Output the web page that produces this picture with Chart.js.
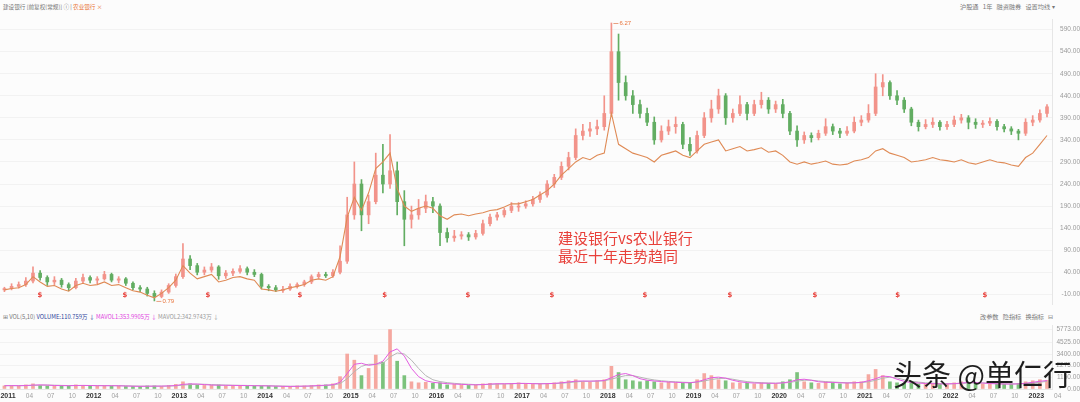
<!DOCTYPE html>
<html>
<head>
<meta charset="utf-8">
<script src="https://cdn.jsdelivr.net/npm/chart.js@4.4.1/dist/chart.umd.min.js"></script>
<style>
  body { margin:0; width:1080px; height:402px; overflow:hidden; background:#fcfcfc; position:relative; font-family:"Noto Sans CJK SC","Noto Sans",sans-serif; }
  .abs { position:absolute; white-space:nowrap; }
  #priceCanvas { position:absolute; left:0; top:14px; }
  #volCanvas { position:absolute; left:0; top:320px; }
  .small { font-size:5.6px; line-height:8px; color:#777; }
  .note { font-size:15px; line-height:18px; color:#e8403a; }
  .mark { font-size:29px; line-height:34px; color:#1d1d1d; letter-spacing:0px; }
</style>
</head>
<body>
<div class="abs small" style="left:3px;top:3px;">建设银行 [前复权(常规)] ⓘ | <span style="color:#e8743b">农业银行 ×</span></div>
<div class="abs small" style="left:960px;top:3px;font-size:6.2px;">沪股通 &nbsp;&nbsp;1年 &nbsp;&nbsp;融资融券 &nbsp;&nbsp;设置均线 ▾</div>
<canvas id="priceCanvas" width="1080" height="296"></canvas>
<div class="abs small" style="left:3px;top:313px;font-size:5.8px;">⊞ VOL(5,10) <span style="color:#2c3f9a">VOLUME:110.759万 ↓</span> <span style="color:#e040e0">MAVOL1:353.9905万 ↓</span> <span style="color:#999">MAVOL2:342.9743万 ↓</span></div>
<div class="abs small" style="left:980px;top:313px;font-size:6.2px;">改参数 &nbsp;&nbsp;隐指标 &nbsp;&nbsp;换指标 &nbsp;&nbsp;⊟</div>
<canvas id="volCanvas" width="1080" height="82"></canvas>
<div class="abs note" style="left:558px;top:229px;">建设银行vs农业银行<br>最近十年走势趋同</div>
<div class="abs mark" style="left:893px;top:356px;">头条 @单仁行</div>
<script>
// months from 2010-12 to 2023-02, one candle per month
var firstMonth = '2010-12';

// 建设银行 [open, high, low, close] in % change
var ccb = [
    [0, 6, -4, 3],
    // 2011
    [3, 14, 0, 8], [8, 18, 4, 12], [12, 28, 8, 20], [20, 52, 16, 38], [38, 44, 22, 28], [28, 32, 10, 18],
    [18, 30, 12, 22], [22, 26, 6, 12], [12, 16, -2, 5], [5, 26, 2, 20], [20, 36, 16, 28], [28, 32, 16, 22],
    // 2012
    [22, 30, 14, 25], [25, 42, 22, 35], [35, 38, 18, 22], [22, 30, 16, 25], [25, 28, 10, 15], [15, 18, 0, 5],
    [5, 10, -4, 2], [2, 6, -14, -8], [-8, -2, -25, -15], [-15, 0, -18, -5], [-5, 14, -8, 10], [10, 36, 6, 30],
    // 2013
    [30, 105, 26, 70], [70, 78, 46, 55], [55, 60, 34, 40], [40, 52, 34, 45], [45, 60, 40, 52], [52, 55, 24, 32],
    [32, 44, 26, 38], [38, 48, 32, 42], [42, 55, 38, 48], [48, 52, 34, 40], [40, 46, 30, 35], [35, 38, 2, 8],
    // 2014
    [8, 12, -2, 5], [5, 10, -4, 0], [0, 8, -6, 2], [2, 14, -1, 8], [8, 16, 4, 12], [12, 22, 8, 18],
    [18, 34, 14, 30], [30, 40, 26, 35], [35, 40, 28, 32], [32, 46, 28, 40], [40, 100, 36, 65], [65, 210, 60, 170],
    // 2015
    [170, 290, 160, 240], [240, 250, 134, 170], [170, 215, 150, 200], [200, 310, 195, 260], [260, 330, 220, 240], [240, 352, 230, 270],
    [270, 290, 170, 200], [200, 225, 100, 160], [160, 190, 140, 170], [170, 205, 160, 185], [185, 215, 175, 200], [200, 210, 175, 190],
    // 2016
    [190, 195, 100, 130], [130, 140, 108, 118], [118, 135, 110, 122], [122, 132, 115, 125], [125, 130, 112, 120], [120, 135, 115, 128],
    [128, 158, 124, 150], [150, 172, 145, 165], [165, 176, 158, 170], [170, 185, 165, 180], [180, 198, 175, 190], [190, 198, 178, 190],
    // 2017
    [190, 202, 185, 195], [195, 212, 190, 205], [205, 222, 198, 215], [215, 248, 210, 240], [240, 262, 232, 255], [255, 290, 250, 280],
    [280, 312, 272, 300], [300, 365, 295, 350], [350, 375, 340, 360], [360, 380, 348, 365], [365, 385, 352, 370], [370, 440, 362, 400],
    // 2018
    [400, 605, 395, 540], [540, 580, 430, 470], [470, 485, 430, 440], [440, 452, 400, 420], [420, 430, 390, 400], [400, 412, 372, 380],
    [380, 392, 330, 340], [340, 372, 335, 360], [360, 385, 352, 370], [370, 392, 355, 375], [375, 380, 320, 330], [330, 345, 305, 315],
    // 2019
    [315, 360, 310, 350], [350, 402, 345, 390], [390, 430, 380, 410], [410, 455, 400, 440], [440, 445, 375, 390], [390, 410, 380, 400],
    [400, 440, 395, 420], [420, 425, 385, 400], [400, 430, 395, 420], [420, 448, 412, 430], [430, 436, 400, 410], [410, 428, 402, 420],
    // 2020
    [420, 432, 390, 400], [400, 405, 352, 360], [360, 372, 325, 340], [340, 358, 332, 350], [350, 356, 335, 345], [345, 362, 340, 355],
    [355, 388, 350, 370], [370, 376, 352, 360], [360, 366, 345, 355], [355, 370, 350, 360], [360, 392, 356, 380], [380, 395, 372, 385],
    // 2021
    [385, 420, 380, 400], [400, 490, 395, 460], [460, 488, 440, 470], [470, 474, 432, 440], [440, 452, 420, 430], [430, 436, 402, 410],
    [410, 414, 372, 380], [380, 385, 360, 370], [370, 386, 365, 375], [375, 390, 368, 380], [380, 384, 362, 370], [370, 382, 364, 375],
    // 2022
    [375, 394, 370, 385], [385, 398, 378, 390], [390, 395, 365, 380], [380, 388, 366, 375], [375, 384, 368, 378], [378, 390, 372, 382],
    [382, 386, 362, 370], [370, 375, 358, 365], [365, 370, 352, 360], [360, 364, 340, 355], [355, 388, 350, 380], [380, 395, 372, 385],
    // 2023
    [385, 408, 380, 400], [400, 420, 392, 415]
];

// 农业银行 close in % change
var abc = [
    0,
    3, 5, 12, 30, 18, 8, 10, 2, -3, 10, 15, 10,
    12, 18, 10, 12, 5, -2, -5, -12, -18, -8, 5, 22,
    55, 38, 25, 30, 35, 18, 22, 28, 30, 25, 22, 2,
    0, -3, 0, 5, 8, 12, 22, 25, 22, 30, 75, 165,
    210, 180, 220, 275, 290, 310, 230, 190, 178, 185, 190, 185,
    168, 160, 170, 172, 168, 172, 175, 180, 182, 188, 195, 195,
    200, 205, 215, 225, 240, 260, 275, 290, 300, 295, 305, 310,
    400, 330, 320, 310, 305, 300, 290, 305, 310, 315, 305, 300,
    315, 330, 335, 340, 315, 320, 325, 315, 318, 322, 312, 315,
    305, 290, 285, 290, 285, 288, 292, 285, 283, 285, 292, 295,
    300, 315, 320, 310, 305, 300, 290, 292, 295, 300, 295, 293,
    290, 295, 288, 285, 290, 295, 290, 288, 283, 280, 300, 310,
    330, 350
];

// volume (万)
var vol = [
    300,
    350, 300, 400, 500, 350, 300, 300, 350, 300, 400, 350, 300,
    300, 350, 300, 300, 250, 250, 250, 300, 300, 250, 350, 450,
    700, 500, 400, 350, 350, 400, 300, 350, 350, 300, 300, 300,
    300, 250, 250, 250, 300, 300, 350, 400, 400, 500, 1200, 3400,
    2800, 1300, 2000, 3300, 2600, 5773, 2700, 1300, 700, 600, 650, 550,
    600, 400, 450, 400, 350, 400, 500, 550, 500, 450, 550, 600,
    500, 450, 500, 550, 600, 700, 800, 900, 700, 650, 800, 900,
    2200, 1600, 900, 800, 700, 800, 700, 600, 650, 600, 550, 600,
    900, 1500, 1300, 900, 800, 600, 600, 550, 500, 600, 550, 500,
    700, 900, 1600, 700, 600, 550, 700, 600, 500, 550, 700, 700,
    1400, 1900, 1300, 700, 600, 550, 600, 500, 500, 500, 450, 500,
    600, 700, 650, 550, 500, 500, 450, 450, 500, 550, 700, 800,
    900, 850
];

var mavol1 = [
    320,
    330, 320, 340, 380, 400, 380, 340, 330, 320, 340, 350, 340,
    320, 320, 320, 310, 290, 270, 260, 270, 280, 280, 300, 340,
    450, 500, 480, 430, 380, 370, 360, 350, 340, 330, 320, 310,
    300, 280, 260, 250, 260, 280, 300, 340, 370, 420, 650, 1500,
    2400, 2500, 2300, 2400, 2700, 3600, 3900, 3200, 2000, 1200, 800, 650,
    580, 520, 480, 450, 420, 400, 430, 480, 510, 510, 520, 550,
    540, 520, 500, 520, 550, 600, 680, 760, 780, 760, 780, 820,
    1100, 1400, 1500, 1300, 1000, 850, 780, 720, 680, 650, 620, 600,
    700, 900, 1100, 1150, 1050, 850, 700, 620, 580, 570, 560, 550,
    600, 700, 900, 950, 850, 700, 650, 640, 600, 580, 600, 650,
    800, 1000, 1250, 1200, 950, 750, 620, 580, 530, 520, 500, 490,
    520, 580, 630, 620, 580, 530, 500, 480, 480, 500, 560, 650,
    750, 820
];

var mavol2 = [
    320,
    330, 325, 330, 350, 370, 380, 370, 350, 335, 335, 340, 340,
    335, 330, 325, 320, 310, 295, 280, 275, 275, 278, 285, 310,
    380, 430, 460, 460, 430, 400, 380, 365, 355, 345, 335, 325,
    315, 300, 285, 270, 265, 270, 280, 310, 340, 380, 520, 1000,
    1700, 2200, 2400, 2400, 2500, 3100, 3500, 3400, 2800, 2000, 1300, 900,
    720, 620, 550, 500, 460, 430, 430, 450, 480, 500, 510, 530,
    540, 530, 520, 520, 530, 560, 620, 690, 740, 760, 770, 800,
    950, 1150, 1300, 1300, 1150, 1000, 880, 800, 740, 700, 660, 630,
    660, 780, 920, 1020, 1050, 950, 820, 720, 650, 610, 585, 565,
    580, 640, 760, 850, 860, 780, 720, 680, 640, 610, 600, 620,
    700, 850, 1050, 1150, 1080, 900, 750, 670, 600, 560, 530, 510,
    510, 540, 580, 600, 590, 560, 530, 510, 495, 495, 520, 580,
    660, 740
];

// dividend days ($ marks)
var divDates = ['2011-05-15', '2012-05-12', '2013-05-01', '2014-05-27', '2015-05-24', '2016-05-13',
    '2017-05-06', '2018-06-07', '2019-06-04', '2020-05-31', '2021-05-19', '2022-05-25'];

var priceTicks = [-10, 40, 90, 140, 190, 240, 290, 340, 390, 440, 490, 540, 590];
var volTicks = [0, 1150, 2275, 3400, 4525, 5773];
var maxLabel = '6.27';
var minLabel = '0.79';

var upColor = '#f2938a';
var downColor = '#62ad62';
var xMin = -1.12, xMax = 146.2;

// month position: months since 2011-01, candle at middle of month
function pos(i) {
    var p = firstMonth.split('-');
    return (Number(p[0]) - 2011) * 12 + Number(p[1]) - 1 + i + 0.5;
}
function datePos(d) {
    var p = d.split('-');
    return (Number(p[0]) - 2011) * 12 + Number(p[1]) - 1 + (Number(p[2]) - 1) / 30;
}

var wicks = [], bodies = [], candleColors = [], abcLine = [], volBars = [], ma1 = [], ma2 = [];
for (var i = 0; i < ccb.length; i++) {
    var c = ccb[i];
    wicks.push({x: pos(i), y: [c[2], c[1]]});
    bodies.push({x: pos(i), y: [c[0], c[3]]});
    candleColors.push(c[3] >= c[0] ? upColor : downColor);
    abcLine.push({x: pos(i), y: abc[i]});
    volBars.push({x: pos(i), y: vol[i]});
    ma1.push({x: pos(i), y: mavol1[i]});
    ma2.push({x: pos(i), y: mavol2[i]});
}
var volColors = candleColors.map(function (col) { return col === upColor ? '#f5a8a0' : '#7cc27c'; });

var priceMarks = {
    id: 'priceMarks',
    afterDatasetsDraw: function (chart) {
        var ctx = chart.ctx, area = chart.chartArea;
        var xs = chart.scales.x, ys = chart.scales.y;
        ctx.save();
        ctx.font = 'bold 7px "DejaVu Sans"';
        ctx.fillStyle = '#e8403a';
        ctx.textAlign = 'center';
        ctx.textBaseline = 'middle';
        divDates.forEach(function (d) {
            ctx.fillText('$', xs.getPixelForValue(datePos(d)), area.bottom - 9);
        });
        // highest / lowest labels
        var hi = 0, lo = 0;
        for (var i = 0; i < ccb.length; i++) {
            if (ccb[i][1] > ccb[hi][1]) hi = i;
            if (ccb[i][2] < ccb[lo][2]) lo = i;
        }
        ctx.font = '6px "Liberation Sans"';
        ctx.fillStyle = '#e8743b';
        ctx.strokeStyle = '#e8a080';
        ctx.lineWidth = 1;
        ctx.textAlign = 'left';
        [[hi, ccb[hi][1], maxLabel], [lo, ccb[lo][2], minLabel]].forEach(function (m) {
            var px = xs.getPixelForValue(pos(m[0])), py = ys.getPixelForValue(m[1]);
            ctx.beginPath();
            ctx.moveTo(px + 2, py + 0.5);
            ctx.lineTo(px + 7, py + 0.5);
            ctx.stroke();
            ctx.fillText(m[2], px + 8, py);
        });
        ctx.restore();
    }
};

new Chart(document.getElementById('priceCanvas'), {
    type: 'bar',
    data: {
        datasets: [{
            label: 'wick',
            data: wicks,
            backgroundColor: candleColors,
            barThickness: 1,
            grouped: false,
            order: 3
        }, {
            label: '建设银行',
            data: bodies,
            backgroundColor: candleColors,
            barThickness: 3,
            minBarLength: 1,
            grouped: false,
            order: 2
        }, {
            type: 'line',
            label: '农业银行',
            data: abcLine,
            borderColor: '#df8a55',
            borderWidth: 1.1,
            pointRadius: 0,
            tension: 0,
            order: 1
        }]
    },
    options: {
        responsive: false,
        animation: false,
        layout: {padding: {top: 3, bottom: 6, left: 0, right: 0}},
        plugins: {legend: {display: false}, tooltip: {enabled: false}},
        scales: {
            x: {type: 'linear', min: xMin, max: xMax, offset: false, display: false},
            y: {
                position: 'right',
                min: -32, max: 612,
                afterBuildTicks: function (s) { s.ticks = priceTicks.map(function (v) { return {value: v}; }); },
                afterFit: function (s) { s.width = 28; },
                ticks: {
                    callback: function (v) { return v.toFixed(2); },
                    font: {size: 6.5, family: 'Liberation Sans'},
                    color: '#9a9a9a',
                    crossAlign: 'far',
                    padding: 2
                },
                grid: {color: '#f2f2f2', drawTicks: false},
                border: {color: '#e6e6e6'}
            }
        }
    },
    plugins: [priceMarks]
});

new Chart(document.getElementById('volCanvas'), {
    type: 'bar',
    data: {
        datasets: [{
            label: 'VOLUME',
            data: volBars,
            backgroundColor: volColors,
            barThickness: 3,
            order: 3
        }, {
            type: 'line', label: 'MAVOL1', data: ma1,
            borderColor: '#e25ce0', borderWidth: 1, pointRadius: 0, order: 1
        }, {
            type: 'line', label: 'MAVOL2', data: ma2,
            borderColor: '#b5b5b5', borderWidth: 1, pointRadius: 0, order: 2
        }]
    },
    options: {
        responsive: false,
        animation: false,
        layout: {padding: {top: 1, bottom: 0, left: 0, right: 0}},
        plugins: {legend: {display: false}, tooltip: {enabled: false}},
        scales: {
            x: {
                type: 'linear', min: xMin, max: xMax, offset: false,
                afterBuildTicks: function (s) {
                    var t = [];
                    for (var m = 0; m <= 147; m += 3) t.push({value: m});
                    s.ticks = t;
                },
                afterFit: function (s) { s.height = 13; s.paddingLeft = 0; s.paddingRight = 0; },
                ticks: {
                    autoSkip: false,
                    maxRotation: 0,
                    padding: 3,
                    callback: function (v) {
                        return v % 12 === 0 ? String(2011 + v / 12) : String(v % 12 + 1).padStart(2, '0');
                    },
                    font: function (c) {
                        return c.tick && c.tick.value % 12 === 0 ?
                            {size: 7, family: 'Liberation Sans', weight: 'bold'} : {size: 6.5, family: 'Liberation Sans'};
                    },
                    color: function (c) { return c.tick && c.tick.value % 12 === 0 ? '#333' : '#a0a0a0'; }
                },
                grid: {display: false, drawTicks: false, tickLength: 0, offset: false},
                border: {color: '#e6e6e6'}
            },
            y: {
                position: 'right',
                min: 0, max: 6130,
                afterBuildTicks: function (s) { s.ticks = volTicks.map(function (v) { return {value: v}; }); },
                afterFit: function (s) { s.width = 28; },
                ticks: {
                    callback: function (v) { return v.toFixed(2); },
                    font: {size: 6.5, family: 'Liberation Sans'},
                    color: '#9a9a9a',
                    crossAlign: 'far',
                    padding: 2
                },
                grid: {color: '#f2f2f2', drawTicks: false},
                border: {color: '#e6e6e6'}
            }
        }
    }
});
</script>
</body>
</html>
